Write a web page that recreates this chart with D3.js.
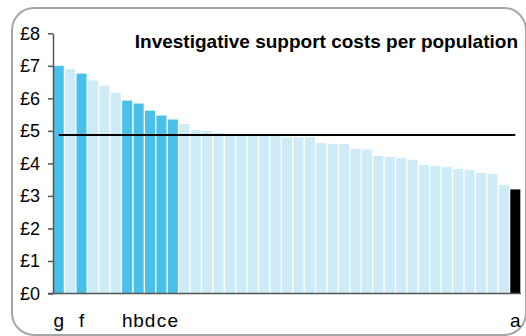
<!DOCTYPE html>
<html lang="en">
<head>
<meta charset="UTF-8">
<title>Investigative support costs per population</title>
<script src="https://d3js.org/d3.v7.min.js"></script>
<style>
  body { margin: 0; background: #fff; }
  svg { font-family: "Liberation Sans", Arial, sans-serif; display: block; }
</style>
</head>
<body>
<div id="chart"></div>
<script>
  // data
  const labels = ["g", "", "f", "", "", "", "h", "b", "d", "c", "e",
    "", "", "", "", "", "", "", "", "", "", "", "", "", "", "", "", "", "", "",
    "", "", "", "", "", "", "", "", "", "", "a"];
  const values = [7.00, 6.90, 6.76, 6.55, 6.39, 6.17, 5.93, 5.84, 5.62, 5.47, 5.35,
    5.21, 5.03, 5.00, 4.94, 4.89, 4.89, 4.89, 4.88, 4.85, 4.80, 4.80, 4.80, 4.63, 4.60,
    4.60, 4.45, 4.42, 4.23, 4.20, 4.17, 4.11, 3.95, 3.92, 3.89, 3.83, 3.80, 3.71, 3.68,
    3.34, 3.20];
  const highlighted = ["g", "f", "h", "b", "d", "c", "e"];
  const reference = ["a"];
  const average = 4.87;
  const yTicks = [0, 1, 2, 3, 4, 5, 6, 7, 8];
  const title = "Investigative support costs per population";

  const W = 526, H = 336;
  const svg = d3.select("#chart").append("svg")
    .attr("width", W).attr("height", H);

  // rounded frame
  svg.append("rect")
    .attr("x", 12).attr("y", 8)
    .attr("width", 514).attr("height", 327)
    .attr("rx", 22)
    .attr("fill", "#fff")
    .attr("stroke", "#a6a6a6")
    .attr("stroke-width", 2);

  const x = d3.scaleBand()
    .domain(d3.range(values.length))
    .range([53, 521])
    .paddingInner(0.12)
    .paddingOuter(0.06);

  const y = d3.scaleLinear()
    .domain([0, 8])
    .range([293.5, 33.3]);

  const colour = i => {
    if (reference.includes(labels[i])) return "#000";
    if (highlighted.includes(labels[i])) return "#49c0ea";
    return "#cdecf8";
  };

  svg.selectAll(".bar")
    .data(values)
    .enter()
    .append("rect")
    .attr("class", "bar")
    .attr("x", (d, i) => x(i))
    .attr("y", d => y(d))
    .attr("width", x.bandwidth())
    .attr("height", d => y(0) - y(d))
    .attr("fill", (d, i) => colour(i));

  // average line from first to last bar centre
  svg.append("line")
    .attr("x1", x(0) + x.bandwidth() / 2)
    .attr("x2", x(values.length - 1) + x.bandwidth() / 2)
    .attr("y1", y(average)).attr("y2", y(average))
    .attr("stroke", "#000")
    .attr("stroke-width", 2);

  // y axis
  const yAxis = svg.append("g")
    .attr("transform", "translate(53,0)")
    .call(d3.axisLeft(y).tickValues(yTicks).tickSize(5).tickSizeOuter(0)
      .tickPadding(8).tickFormat(d => "£" + d));
  yAxis.selectAll("path, line").attr("stroke", "#555").attr("stroke-width", 1.5);
  yAxis.selectAll("text")
    .attr("fill", "#000")
    .style("font-size", "18px")
    .style("font-family", "'Liberation Sans', Arial, sans-serif");

  // x axis baseline
  svg.append("line")
    .attr("x1", 48).attr("x2", 521)
    .attr("y1", y(0)).attr("y2", y(0))
    .attr("stroke", "#555")
    .attr("stroke-width", 1.5);

  // category labels
  svg.selectAll(".cat")
    .data(labels)
    .enter()
    .append("text")
    .attr("class", "cat")
    .attr("x", (d, i) => x(i) + x.bandwidth() / 2)
    .attr("y", 327)
    .attr("text-anchor", "middle")
    .style("font-size", "19px")
    .text(d => d);

  svg.append("text")
    .attr("x", 518).attr("y", 48)
    .attr("text-anchor", "end")
    .style("font-weight", "bold")
    .style("font-size", "19px")
    .text(title);
</script>
</body>
</html>
